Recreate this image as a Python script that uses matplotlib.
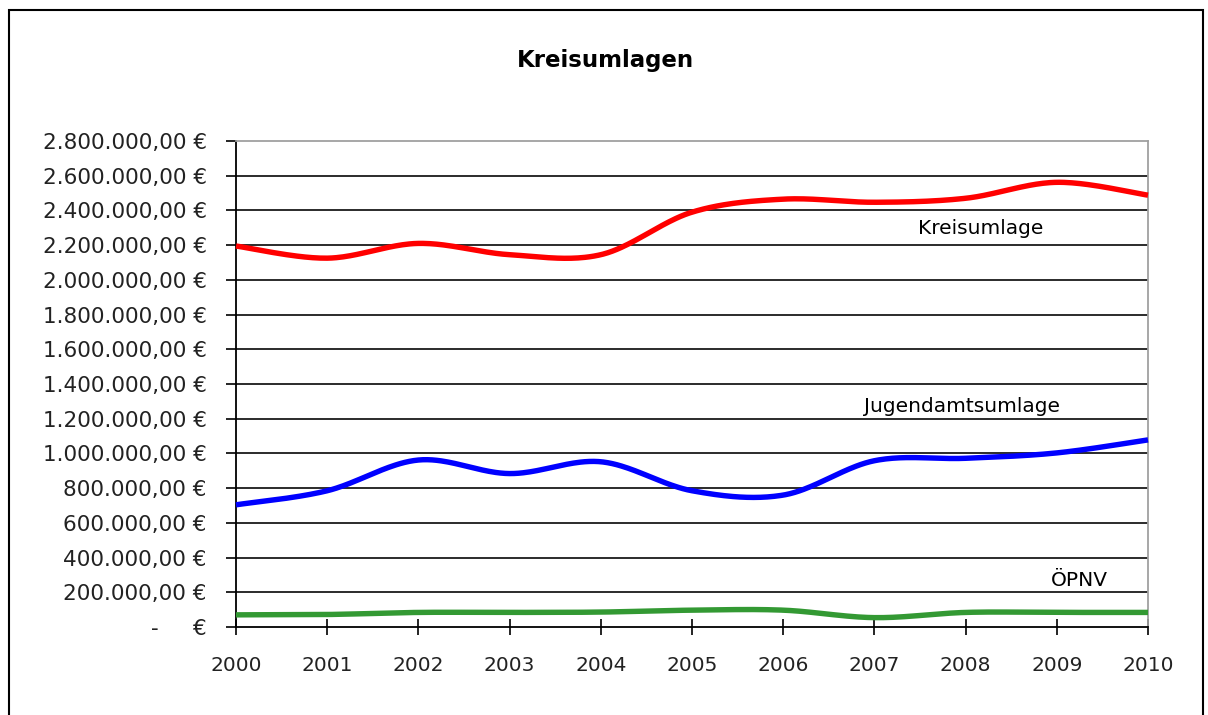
import numpy as np
import matplotlib
matplotlib.use("Agg")
import matplotlib.pyplot as plt
from matplotlib.patches import Rectangle
from matplotlib.ticker import FixedLocator, FuncFormatter

# ---- data ----
years = [2000, 2001, 2002, 2003, 2004, 2005, 2006, 2007, 2008, 2009, 2010]
kreisumlage = [2195000, 2125000, 2210000, 2145000, 2145000, 2390000,
               2465000, 2447000, 2470000, 2562000, 2488000]
jugendamtsumlage = [704000, 785000, 962000, 884000, 952000, 785000,
                    760000, 958000, 972000, 1003000, 1078000]
oepnv = [70000, 72000, 84000, 84000, 86000, 97000,
         97000, 54000, 84000, 84000, 84000]
series_names = ["Kreisumlage", "Jugendamtsumlage", "ÖPNV"]
series_colors = ["#FF0000", "#0000FF", "#339933"]
title = "Kreisumlagen"
y_ticks = list(range(0, 2800001, 200000))


def smooth(xs, ys, n=40):
    """Catmull-Rom smoothing (like Excel's smoothed lines)."""
    xs = np.asarray(xs, float)
    ys = np.asarray(ys, float)
    px = np.concatenate([[xs[0]], xs, [xs[-1]]])
    py = np.concatenate([[ys[0]], ys, [ys[-1]]])
    outx, outy = [], []
    for i in range(1, len(px) - 2):
        t = np.linspace(0, 1, n, endpoint=(i == len(px) - 3))
        t2, t3 = t * t, t * t * t
        for p, out in ((px, outx), (py, outy)):
            p0, p1, p2, p3 = p[i - 1], p[i], p[i + 1], p[i + 2]
            m1 = (p2 - p0) / 2.0
            m2 = (p3 - p1) / 2.0
            out.extend((2 * t3 - 3 * t2 + 1) * p1 + (t3 - 2 * t2 + t) * m1
                       + (-2 * t3 + 3 * t2) * p2 + (t3 - t2) * m2)
    return np.array(outx), np.array(outy)


def fmt_euro(v, pos=None):
    if v == 0:
        return "-     €"
    s = f"{v:,.2f}"
    s = s.replace(",", "X").replace(".", ",").replace("X", ".")
    return s + " €"


W, H = 1208, 715
fig = plt.figure(figsize=(W / 100, H / 100), dpi=100)
fig.patch.set_facecolor("white")
plt.rcParams["font.family"] = ["DejaVu Sans"]

# outer chart border
fig.patches.append(Rectangle((9 / W, -0.05), (1203 - 9) / W, (705 / H) + 0.05,
                             transform=fig.transFigure, fill=False,
                             edgecolor="black", linewidth=1.5))

ax = fig.add_axes([236 / W, (H - 627) / H, (1148 - 236) / W, (627 - 141) / H])
ax.set_xlim(years[0], years[-1])
ax.set_ylim(0, 2800000)

for vals, color in zip([kreisumlage, jugendamtsumlage, oepnv], series_colors):
    sx, sy = smooth(years, vals)
    ax.plot(sx, sy, color=color, linewidth=3.9, solid_capstyle="butt",
            zorder=3, clip_on=False)

# grid
ax.yaxis.set_major_locator(FixedLocator(y_ticks))
ax.yaxis.set_major_formatter(FuncFormatter(fmt_euro))
for yv in y_ticks[1:-1]:
    ax.axhline(yv, color="#1a1a1a", linewidth=1.3, zorder=1)

ax.set_xticks(years)
ax.set_xticklabels([str(y) for y in years])

for side in ["top", "right"]:
    ax.spines[side].set_color("#a0a0a0")
    ax.spines[side].set_linewidth(1.3)
for side in ["left", "bottom"]:
    ax.spines[side].set_color("black")
    ax.spines[side].set_linewidth(1.3)

ax.tick_params(axis="y", direction="out", length=7, width=1.2,
               labelsize=15.5, pad=14, colors="black", labelcolor="#222222")
ax.tick_params(axis="x", direction="inout", length=12, width=1.2,
               labelsize=14.5, pad=15, colors="black", labelcolor="#222222")

# title
fig.text(605 / W, 1 - 60 / H, title, ha="center", va="center",
         fontsize=16.5, fontweight="bold", color="black")

# series labels
label_pos = [(981, 228), (962, 406), (1079, 580)]
for name, (px, py) in zip(series_names, label_pos):
    fig.text(px / W, 1 - py / H, name, ha="center", va="center",
             fontsize=14.5, color="black")

fig.savefig("out.png", dpi=100, facecolor="white")
